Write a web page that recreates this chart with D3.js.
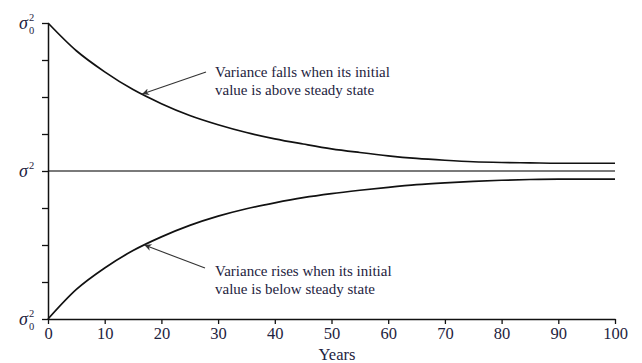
<!DOCTYPE html>
<html>
<head>
<meta charset="utf-8">
<script src="https://cdn.jsdelivr.net/npm/d3@7"></script>
<style>
  body { margin: 0; background: #fff; }
  text { font-family: "Liberation Serif", "DejaVu Serif", serif; fill: #1e2340; }
</style>
</head>
<body>
<svg id="chart" width="642" height="363"></svg>
<script>
// Years sampled along the curves
const years = [0, 5, 10, 15, 20, 25, 30, 35, 40, 45, 50, 55, 60, 65, 70, 75, 80, 85, 90, 95, 100];
// Variance starting above steady state (sigma0^2 = 4, steady state = 0)
const fallingVariance = [4.0, 3.25, 2.68, 2.2, 1.82, 1.5, 1.25, 1.04, 0.87, 0.73, 0.6, 0.5, 0.41, 0.34, 0.29, 0.25, 0.23, 0.22, 0.21, 0.21, 0.21];
// Variance starting below steady state
const risingVariance = [-4.0, -3.2, -2.62, -2.15, -1.78, -1.47, -1.22, -1.02, -0.86, -0.72, -0.61, -0.52, -0.44, -0.37, -0.32, -0.28, -0.25, -0.23, -0.22, -0.22, -0.22];
const steadyState = [0, 0];
const steadyYears = [0, 100];

const xTicks = [0, 10, 20, 30, 40, 50, 60, 70, 80, 90, 100];
const yTicks = [-4, -3, -2, -1, 0, 1, 2, 3, 4];

// Size of the drawing area
const WIDTH = 642;
const HEIGHT = 363;
const margin = { left: 48, right: 27, top: 23, bottom: 44 };

const svg = d3.select("#chart");

const x = d3.scaleLinear().domain([0, 100]).range([margin.left, WIDTH - margin.right]);
const y = d3.scaleLinear().domain([-4, 4]).range([HEIGHT - margin.bottom, margin.top]);

const line = d3.line().x((d) => x(d[0])).y((d) => y(d[1])).curve(d3.curveMonotoneX);

// Steady state line (grey)
svg.append("path")
  .attr("d", line(steadyYears.map((t, i) => [t, steadyState[i]])))
  .attr("fill", "none")
  .attr("stroke", "#7a7a7a")
  .attr("stroke-width", 2.2);

// The two variance curves
[fallingVariance, risingVariance].forEach((series) => {
  svg.append("path")
    .attr("d", line(years.map((t, i) => [t, series[i]])))
    .attr("fill", "none")
    .attr("stroke", "#111")
    .attr("stroke-width", 1.7);
});

// X axis
const xAxis = svg.append("g")
  .attr("transform", `translate(0, ${y(-4)})`)
  .call(d3.axisBottom(x).tickValues(xTicks).tickSize(5).tickSizeOuter(0).tickPadding(3));
xAxis.select(".domain").attr("stroke", "#111").attr("stroke-width", 1.5);
xAxis.selectAll(".tick line").attr("stroke", "#111").attr("stroke-width", 1.3);
xAxis.selectAll(".tick text")
  .style("font-family", "Liberation Serif, serif")
  .style("font-size", "16.5px")
  .attr("fill", "#1e2340");

// Y axis, no numeric labels
const yAxis = svg.append("g")
  .attr("transform", `translate(${x(0)}, 0)`)
  .call(d3.axisLeft(y).tickValues(yTicks).tickSize(6).tickSizeOuter(0).tickFormat(""));
yAxis.select(".domain").attr("stroke", "#111").attr("stroke-width", 1.5);
yAxis.selectAll(".tick line").attr("stroke", "#111").attr("stroke-width", 1.3);

// Sigma labels on the y axis
const sigmaLabels = [
  { v: 4, sub: "0" },
  { v: 0, sub: "" },
  { v: -4, sub: "0" },
];
sigmaLabels.forEach((d) => {
  const base = y(d.v) + 6;
  svg.append("text")
    .attr("x", 28).attr("y", base)
    .attr("text-anchor", "end")
    .style("font-style", "italic")
    .style("font-size", "18px")
    .text("σ");
  svg.append("text")
    .attr("x", 29).attr("y", base - 8)
    .style("font-size", "10.5px")
    .text("2");
  if (d.sub) {
    svg.append("text")
      .attr("x", 29).attr("y", base + 5)
      .style("font-size", "10.5px")
      .text(d.sub);
  }
});

// Axis title
svg.append("text")
  .attr("x", 337).attr("y", 360)
  .attr("text-anchor", "middle")
  .style("font-size", "16.5px")
  .text("Years");

// Arrow marker
svg.append("defs").append("marker")
  .attr("id", "arrow")
  .attr("viewBox", "0 0 10 10")
  .attr("refX", 10).attr("refY", 5)
  .attr("markerWidth", 9).attr("markerHeight", 7)
  .attr("markerUnits", "userSpaceOnUse")
  .attr("orient", "auto")
  .append("path")
  .attr("d", "M0,0 L10,5 L0,10 L3,5 Z")
  .attr("fill", "#333");

// Annotations, each arrow points at a spot on its curve
const notes = [
  { lines: ["Variance falls when its initial", "value is above steady state"], tx: 215, ty: 77, from: [206, 72], at: 16.6, series: fallingVariance },
  { lines: ["Variance rises when its initial", "value is below steady state"], tx: 215, ty: 276, from: [205, 268], at: 17, series: risingVariance },
];
const valueAt = (series, t) => d3.scaleLinear().domain(years).range(series)(t);

notes.forEach((n) => {
  svg.append("line")
    .attr("x1", n.from[0]).attr("y1", n.from[1])
    .attr("x2", x(n.at)).attr("y2", y(valueAt(n.series, n.at)))
    .attr("stroke", "#333")
    .attr("stroke-width", 1.1)
    .attr("marker-end", "url(#arrow)");
  n.lines.forEach((l, i) => {
    svg.append("text")
      .attr("x", n.tx).attr("y", n.ty + i * 18)
      .style("font-size", "15px")
      .text(l);
  });
});
</script>
</body>
</html>
